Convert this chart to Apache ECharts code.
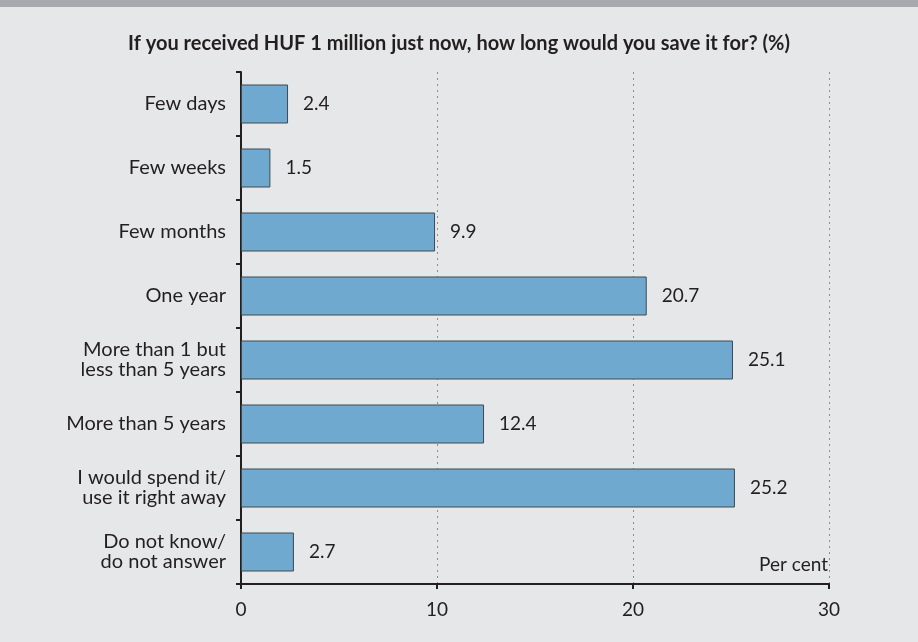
<!DOCTYPE html>
<html>
<head>
<meta charset="utf-8">
<script src="https://cdn.jsdelivr.net/npm/echarts@6/dist/echarts.min.js"></script>
<style>
  html, body { margin: 0; padding: 0; background: #e6e7e8; }
  #band { position: absolute; left: 0; top: 0; width: 918px; height: 7px; background: #a7a9ac; }
  #chart { width: 918px; height: 642px; }
</style>
</head>
<body>
<div id="band"></div>
<div id="chart"></div>
<script>
// Saving horizon answers, in per cent
const categories = [
  'Few days',
  'Few weeks',
  'Few months',
  'One year',
  'More than 1 but\nless than 5 years',
  'More than 5 years',
  'I would spend it/\nuse it right away',
  'Do not know/\ndo not answer'
];
const shares = [2.4, 1.5, 9.9, 20.7, 25.1, 12.4, 25.2, 2.7];
const xTicks = [0, 10, 20, 30];

const FONT = 'Lato, "Open Sans", sans-serif';
const INK = '#231f20';

const chart = echarts.init(document.getElementById('chart'), null, { renderer: 'canvas' });
chart.setOption({
  backgroundColor: 'transparent',
  animation: false,
  title: {
    text: 'If you received HUF 1 million just now, how long would you save it for? (%)',
    left: 'center',
    top: 29,
    textStyle: { fontFamily: FONT, fontSize: 20, fontWeight: 'bold', color: INK }
  },
  grid: { left: 241, right: 89, top: 72, bottom: 58, containLabel: false },
  xAxis: {
    type: 'value',
    min: xTicks[0],
    max: xTicks[xTicks.length - 1],
    interval: 10,
    axisLine: { show: true, lineStyle: { color: INK, width: 2 } },
    axisTick: { show: true, length: 5, lineStyle: { color: INK, width: 2 } },
    axisLabel: { color: INK, fontFamily: FONT, fontSize: 19, margin: 16 },
    splitLine: {
      show: true,
      lineStyle: { color: '#8a8c8e', type: [2, 4], width: 1 }
    }
  },
  yAxis: {
    type: 'category',
    data: categories,
    inverse: true,
    axisLine: { show: true, lineStyle: { color: INK, width: 2 } },
    axisTick: { show: true, length: 5, inside: false, lineStyle: { color: INK, width: 2 } },
    axisLabel: { color: INK, fontFamily: FONT, fontSize: 20, margin: 15, lineHeight: 20, align: 'right' }
  },
  series: [{
    type: 'bar',
    data: shares,
    barWidth: 39,
    itemStyle: { color: '#70a9d0', borderColor: '#3f4a52', borderWidth: 1 },
    label: {
      show: true,
      position: 'right',
      distance: 15,
      color: INK,
      fontFamily: FONT,
      fontSize: 19,
      formatter: p => p.value.toFixed(1)
    }
  }],
  graphic: [{
    type: 'text',
    right: 90,
    top: 555,
    style: { text: 'Per cent', fill: INK, font: '19px ' + FONT }
  }]
});
</script>
</body>
</html>
